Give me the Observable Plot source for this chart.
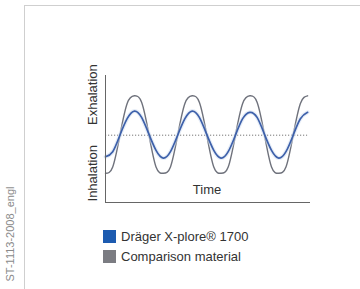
<!DOCTYPE html>
<html>
<head>
<meta charset="utf-8">
<script src="https://cdn.jsdelivr.net/npm/d3@7"></script>
<script src="https://cdn.jsdelivr.net/npm/@observablehq/plot@0.6"></script>
<style>
  html, body { margin: 0; padding: 0; background: #fff; }
  #wrap { position: relative; width: 360px; height: 289px; overflow: hidden; font-family: "Liberation Sans", Arial, sans-serif; }
  #frame { position: absolute; left: 24px; top: 5px; width: 340px; height: 290px; border-left: 1px solid #cfcfcf; border-top: 1px solid #cfcfcf; }
  #side { position: absolute; left: 10px; top: 234px; transform: translate(-50%, -50%) rotate(-90deg); font-size: 11px; color: #8a8a8a; white-space: nowrap; }
  #chart { position: absolute; left: 0; top: 0; width: 360px; height: 289px; }
  #chart svg { max-width: none; display: block; }
  .leg { position: absolute; left: 103px; display: flex; align-items: center; font-size: 13px; line-height: 15px; color: #333; white-space: nowrap; }
  .sw { width: 13px; height: 13px; margin-right: 5px; }
</style>
</head>
<body>
<div id="wrap">
  <div id="frame"></div>
  <div id="side">ST-1113-2008_engl</div>
  <div id="chart"></div>
  <div id="legend"></div>
</div>
<script>
// Data (time in quarter-breath units, signal in relative units)
const times = [0,0.5,1,1.5,2,2.5,3,3.5,4,4.5,5,5.5,6,6.5,7,7.5,8,8.5,9,9.5,10,10.5,11,11.5,12,12.5,13,13.5,14];
const dragerValues = [36,40,53,66,72,67,54,41,35,40,53,66,72,67,54,41,35,40,53,66,71,67,54,41,35,40,53,66,71];
const comparisonValues = [23,28,53,78,84,79,54,28,23,28,53,78,84,79,54,28,23,28,53,78,84,79,54,28,23,28,53,78,84];
const baseline = [53];
const yTickValues = [85, 23];
const yTickLabels = ["Exhalation", "Inhalation"];
const xLabel = "Time";
const seriesNames = ["Dräger X-plore® 1700", "Comparison material"];
const seriesColors = ["#3d60aa", "#6f727c"];
const legendColors = ["#1d5bb0", "#7b7c82"];

const drager = times.map((t, i) => ({t, v: dragerValues[i]}));
const comparison = times.map((t, i) => ({t, v: comparisonValues[i]}));
const yLabels = yTickValues.map((v, i) => ({v, label: yTickLabels[i]}));

const chart = Plot.plot({
  width: 360,
  height: 289,
  marginLeft: 105,
  marginRight: 50,
  marginTop: 75,
  marginBottom: 87,
  style: {fontFamily: "Liberation Sans, Arial, sans-serif", background: "transparent"},
  x: {domain: [0, 14.2], axis: null},
  y: {domain: [0, 100], axis: null},
  marks: [
    Plot.ruleY(baseline, {x1: d3.min(times), x2: d3.max(times), stroke: "#777", strokeWidth: 1, strokeDasharray: "1.2,1.8"}),
    Plot.line(comparison, {x: "t", y: "v", curve: "natural", stroke: seriesColors[1], strokeWidth: 1.4}),
    Plot.line(drager, {x: "t", y: "v", curve: "natural", stroke: "#cddcf0", strokeWidth: 4, strokeOpacity: 0.5}),
    Plot.line(drager, {x: "t", y: "v", curve: "natural", stroke: seriesColors[0], strokeWidth: 1.7}),
    Plot.ruleY([0], {stroke: "#666", strokeWidth: 1}),
    Plot.ruleX([0], {stroke: "#666", strokeWidth: 1}),
    Plot.text(yLabels, {y: "v", text: "label", frameAnchor: "left", rotate: -90, dx: -13, lineAnchor: "middle", textAnchor: "middle", fontSize: 13, fill: "#333"}),
    Plot.text([xLabel], {text: d => d, frameAnchor: "bottom", dy: -9, dx: -1, fontSize: 13, fill: "#333"})
  ]
});
document.getElementById("chart").appendChild(chart);

const legend = document.getElementById("legend");
seriesNames.forEach((name, i) => {
  const row = document.createElement("div");
  row.className = "leg";
  row.style.top = (229 + i * 20) + "px";
  const sw = document.createElement("div");
  sw.className = "sw";
  sw.style.background = legendColors[i];
  const tx = document.createElement("span");
  tx.textContent = name;
  row.appendChild(sw);
  row.appendChild(tx);
  legend.appendChild(row);
});
</script>
</body>
</html>
